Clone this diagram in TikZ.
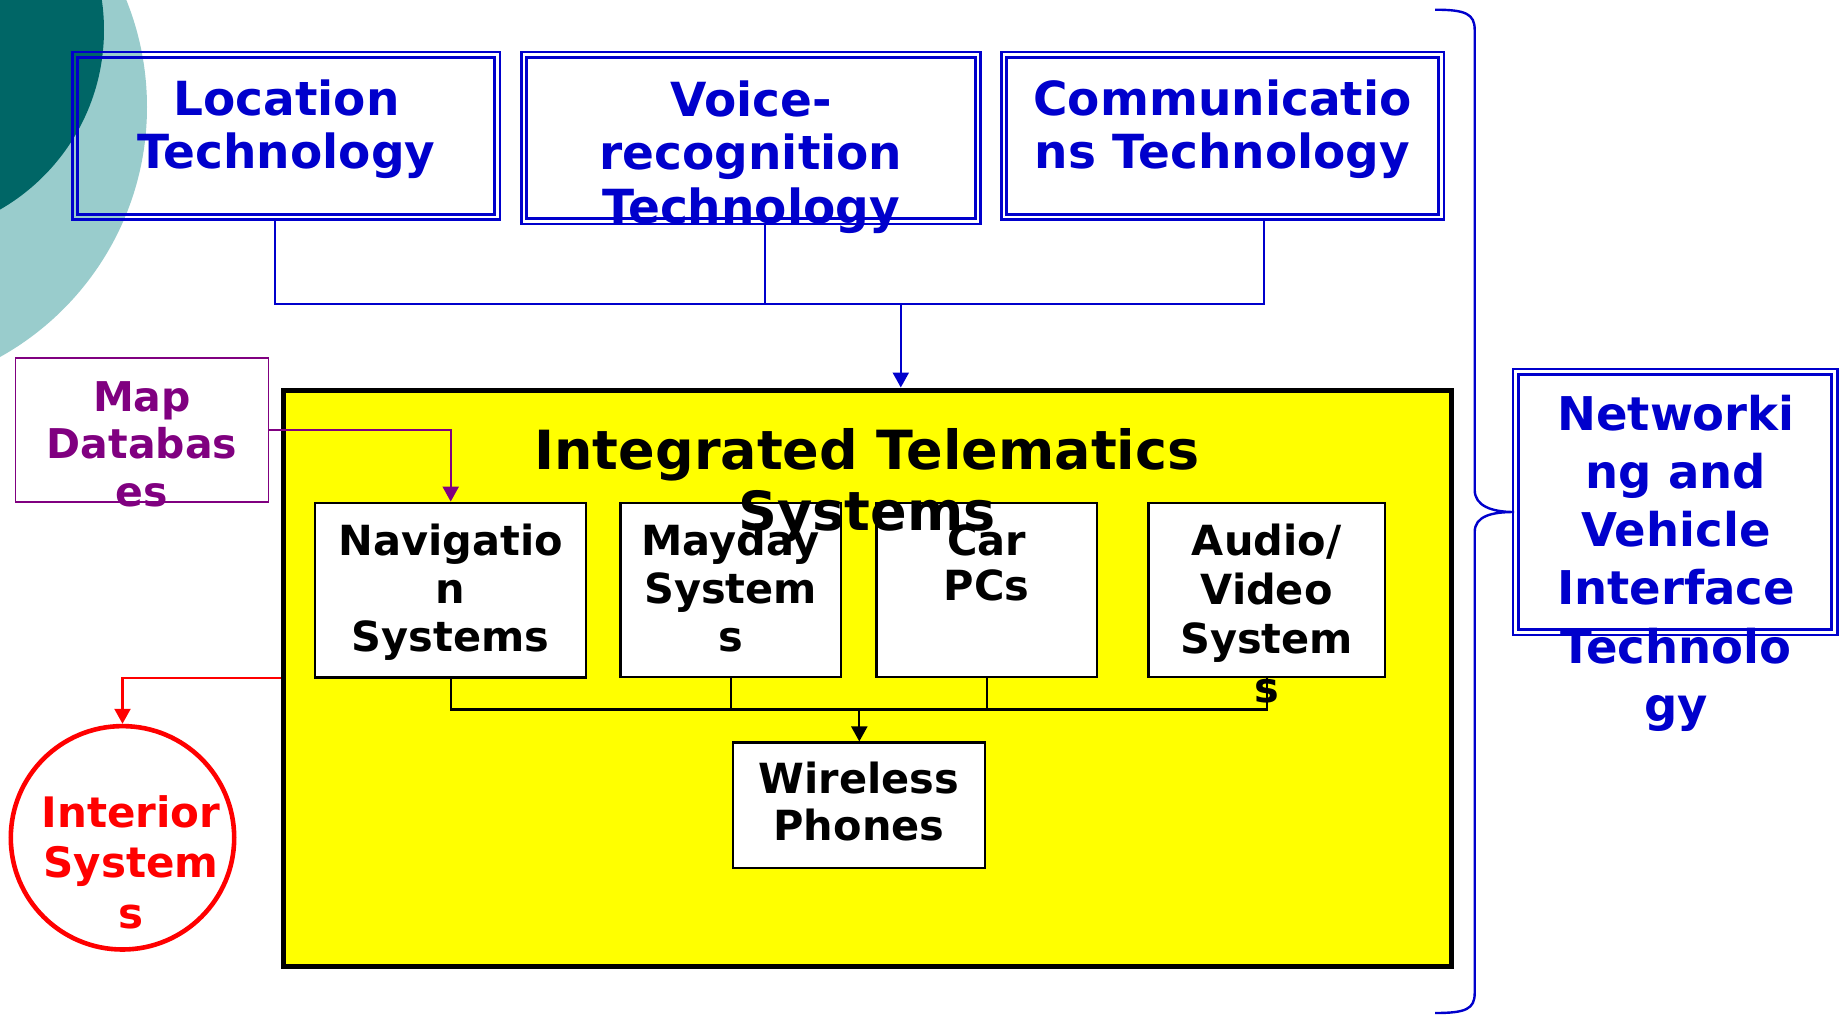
\documentclass[tikz,border=0pt]{standalone}
\usepackage{fontspec}
\setmainfont{DejaVu Sans}
\usetikzlibrary{arrows.meta}

\definecolor{techblue}{RGB}{0,0,204}
\definecolor{mappurple}{RGB}{128,0,128}
\definecolor{alertred}{RGB}{255,0,0}
\definecolor{tealdark}{RGB}{0,102,102}
\definecolor{teallight}{RGB}{153,204,204}
\definecolor{blockyellow}{RGB}{255,255,0}

% centred stack of lines whose baseline is the first line
\newcommand\txtstack[1]{\begin{tabular}[t]{@{}c@{}}#1\end{tabular}}

\begin{document}
\begin{tikzpicture}[x=1pt,y=-1pt,
  techbox/.style={draw=techblue, line width=2.6pt, outer sep=0pt, inner sep=0pt},
  techinner/.style={draw=techblue, line width=2.8pt},
  unitbox/.style={draw=black, fill=white, line width=2.2pt, inner sep=0pt},
  bluewire/.style={draw=techblue, line width=2.3pt},
  blackwire/.style={draw=black, line width=2.2pt},
  purplewire/.style={draw=mappurple, line width=2.2pt},
  redwire/.style={draw=alertred, line width=2.2pt},
  arrowhd/.style={-{Triangle[width=16pt,length=15pt]}},
  txt/.style={anchor=base, inner sep=0pt, outer sep=0pt},
  techtxt/.style={txt, text=techblue, font=\bfseries\fontsize{47}{53}\selectfont},
  unittxt/.style={txt, text=black, font=\bfseries\fontsize{41.5}{48}\selectfont},
]
\useasboundingbox (0,0) rectangle (1841,1015);
\fill[white] (0,0) rectangle (1841,1015);

% corner decoration
\begin{scope}
  \clip (0,0) rectangle (1841,1015);
  \fill[teallight] (-139,107) circle[radius=286];
  \fill[tealdark] (-103,30) circle[radius=207];
\end{scope}

% technology boxes (double blue frames, open inside)
\node[techbox, minimum width=427.8pt, minimum height=167.7pt] (loc)   at (286.1,135.9) {};
\node[techbox, minimum width=459.3pt, minimum height=172pt]   (voice) at (751.1,138) {};
\node[techbox, minimum width=442.7pt, minimum height=167.7pt] (comm)  at (1222.6,135.9) {};
\node[techbox, minimum width=324.4pt, minimum height=266pt]   (netw)  at (1675,502) {};
\foreach \b in {loc,voice,comm,netw}
  \draw[techinner] ([shift={(5.4,5.4)}]\b.north west) rectangle ([shift={(-5.4,-5.4)}]\b.south east);

% integrated telematics block
\node[draw=black, fill=blockyellow, line width=5pt, minimum width=1168pt, minimum height=576pt, inner sep=0pt] (its) at (867,678) {};

% map databases and interior systems
\node[draw=mappurple, line width=1.8pt, minimum width=253pt, minimum height=144pt, inner sep=0pt] (map) at (141.9,430.1) {};
\node[circle, draw=alertred, line width=4.6pt, minimum size=223.4pt, inner sep=0pt] (interior) at (122.5,837.8) {};

% telematics units
\node[unitbox, minimum width=271pt,   minimum height=174.8pt] (nav)    at (450.7,590.1) {};
\node[unitbox, minimum width=220.6pt, minimum height=174pt]   (mayday) at (730.7,589.7) {};
\node[unitbox, minimum width=220.6pt, minimum height=174pt]   (carpc)  at (986.7,589.7) {};
\node[unitbox, minimum width=236.2pt, minimum height=174pt]   (av)     at (1266.6,589.7) {};
\node[unitbox, minimum width=252.7pt, minimum height=125.8pt] (phones) at (859,805.4) {};

% technology bus into the block
\coordinate (busL) at (275,304);
\coordinate (busV) at (765,304);
\coordinate (busA) at (900.8,304);
\coordinate (busR) at (1264,304);
\draw[bluewire] (loc.south -| busL) -- (busL) -- (busR) -- (comm.south -| busR);
\draw[bluewire] (voice.south -| busV) -- (busV);
\draw[bluewire, arrowhd] (busA) -- (its.north -| busA);

% unit bus into wireless phones
\coordinate (ubL) at (450.7,709.5);
\coordinate (ubM) at (730.7,709.5);
\coordinate (ubP) at (859.3,709.5);
\coordinate (ubC) at (986.7,709.5);
\coordinate (ubR) at (1266.6,709.5);
\draw[blackwire] (nav.south) -- (ubL) -- (ubR) -- (av.south);
\draw[blackwire] (mayday.south) -- (ubM);
\draw[blackwire] (carpc.south) -- (ubC);
\draw[blackwire, arrowhd] (ubP) -- (phones.north -| ubP);

% side feeds
\draw[purplewire, arrowhd] (map.east |- 0,430.3) -| (nav.north);
\draw[redwire, arrowhd] (its.west |- 0,677.7) -| (interior.north);

% brace gathering everything towards networking
\coordinate (brtip) at (1514,512);
\draw[bluewire, line width=2.4pt] (1435,9.7) .. controls (1466,9.7) and (1474.7,14) .. (1474.7,30)
  -- (1474.7,490) .. controls (1474.7,506) and (1492,512) .. (brtip)
  .. controls (1492,512) and (1474.7,516) .. (1474.7,532)
  -- (1474.7,993) .. controls (1474.7,1009) and (1466,1013) .. (1435,1013);

% texts
\node[techtxt] (loct) at (286.6,115) {\txtstack{Location\\Technology}};
\node[techtxt, font=\bfseries\fontsize{47}{53.5}\selectfont] (voicet) at (751,116) {\txtstack{Voice-\\recognition\\Technology}};
\node[techtxt] (commt) at (1222.5,115) {\txtstack{Communicatio\\ns Technology}};
\node[techtxt, font=\bfseries\fontsize{46.5}{58.3}\selectfont] (netwt) at (1676,430) {\txtstack{Networki\\ng and\\Vehicle\\Interface\\Technolo\\gy}};

\node[txt, font=\bfseries\fontsize{54}{61}\selectfont] (itst) at (867,469) {\txtstack{Integrated Telematics\\Systems}};

\node[unittxt] (navt) at (450.7,555) {\txtstack{Navigatio\\n\\Systems}};
\node[unittxt] (maydayt) at (730.7,555) {\txtstack{Mayday\\System\\s}};
\node[unittxt, font=\bfseries\fontsize{41.5}{45.5}\selectfont] (carpct) at (986.7,555) {\txtstack{Car\\PCs}};
\node[unittxt, font=\bfseries\fontsize{41.5}{49}\selectfont] (avt) at (1266.6,555) {\txtstack{Audio/\\Video\\System\\s}};
\node[unittxt, font=\bfseries\fontsize{41.5}{47}\selectfont] (phonest) at (859,793) {\txtstack{Wireless\\Phones}};

\node[txt, text=mappurple, font=\bfseries\fontsize{41}{47.5}\selectfont] (mapt) at (142,411) {\txtstack{Map\\Databas\\es}};
\node[txt, text=alertred, font=\bfseries\fontsize{42}{50.7}\selectfont] (interiort) at (131,827) {\txtstack{Interior\\System\\s}};
\end{tikzpicture}
\end{document}
